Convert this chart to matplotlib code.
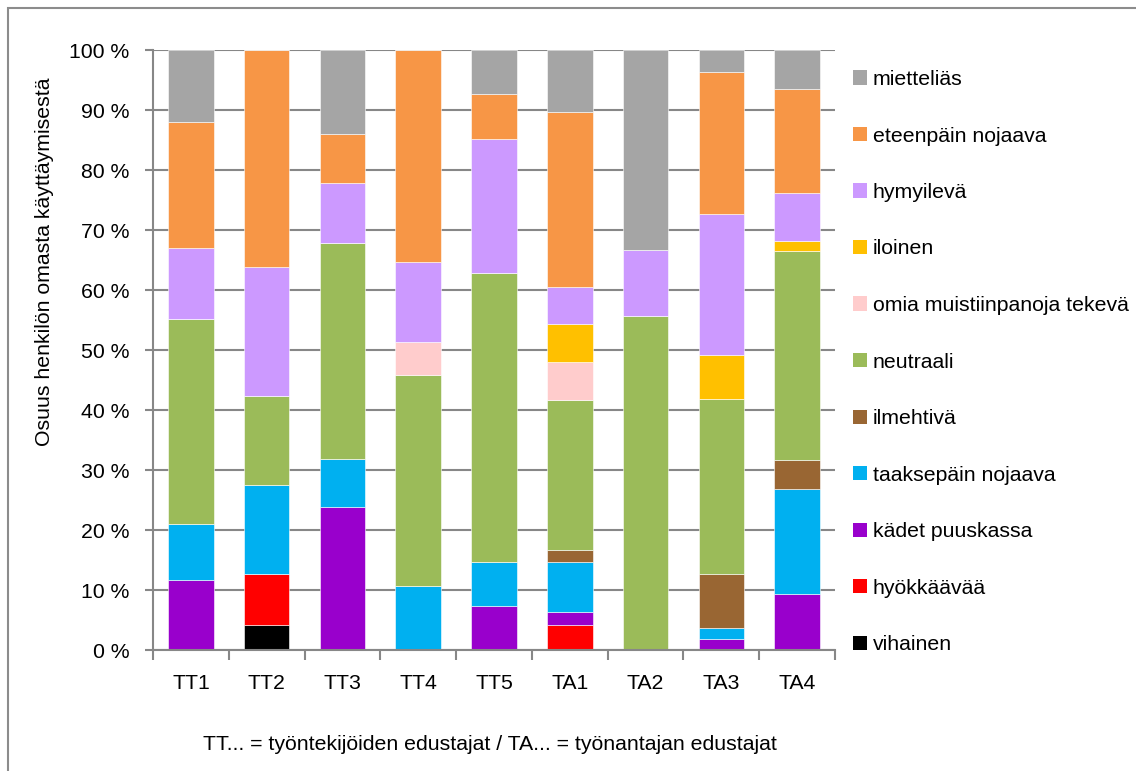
import matplotlib
matplotlib.use("Agg")
import matplotlib.pyplot as plt
from matplotlib.patches import Rectangle
import numpy as np

categories = ["TT1", "TT2", "TT3", "TT4", "TT5", "TA1", "TA2", "TA3", "TA4"]

# series from bottom of stack to top
series_names = ["vihainen", "hyökkäävää", "kädet puuskassa", "taaksepäin nojaava",
                "ilmehtivä", "neutraali", "omia muistiinpanoja tekevä", "iloinen",
                "hymyilevä", "eteenpäin nojaava", "mietteliäs"]
series_colors = ["#000000", "#FF0000", "#9900CC", "#00B0F0", "#996633", "#9BBB59",
                 "#FFCCCC", "#FFC000", "#CC99FF", "#F79646", "#A5A5A5"]

vihainen = [0, 4.2, 0, 0, 0, 0, 0, 0, 0]
hyokkaava = [0, 8.4, 0, 0, 0, 4.2, 0, 0, 0]
kadet_puuskassa = [11.7, 0, 23.8, 0, 7.3, 2.1, 0, 1.8, 9.3]
taaksepain = [9.3, 14.9, 8.1, 10.6, 7.4, 8.3, 0, 1.8, 17.6]
ilmehtiva = [0, 0, 0, 0, 0, 2.1, 0, 9.1, 4.8]
neutraali = [34.1, 14.9, 36.0, 35.2, 48.1, 25.0, 55.6, 29.1, 34.8]
omia_muistiinpanoja = [0, 0, 0, 5.5, 0, 6.3, 0, 0, 0]
iloinen = [0, 0, 0, 0, 0, 6.3, 0, 7.3, 1.7]
hymyileva = [11.9, 21.4, 10.0, 13.4, 22.3, 6.2, 11.1, 23.6, 8.0]
eteenpain = [21.0, 36.2, 8.1, 35.3, 7.5, 29.2, 0, 23.6, 17.3]
mietteliaas = [12.0, 0, 14.0, 0, 7.4, 10.3, 33.3, 3.7, 6.5]

series_values = [vihainen, hyokkaava, kadet_puuskassa, taaksepain, ilmehtiva, neutraali,
                 omia_muistiinpanoja, iloinen, hymyileva, eteenpain, mietteliaas]

ytick_labels = ["0 %", "10 %", "20 %", "30 %", "40 %", "50 %", "60 %", "70 %", "80 %", "90 %", "100 %"]

plt.rcParams['font.family'] = ["Liberation Sans", "DejaVu Sans"]
FS = 15.3

W, H = 1136, 771
fig = plt.figure(figsize=(W / 100, H / 100), dpi=100)

# chart-area border (left/top visible)
fig.add_artist(Rectangle((8 / W, -0.05), 1.2, 1 - 8 / H + 0.05, transform=fig.transFigure,
                         fill=False, edgecolor="#8C8C8C", linewidth=1.5))

L, R, T, B = 153, 835, 50, 650
ax = fig.add_axes([L / W, 1 - B / H, (R - L) / W, (B - T) / H])

x = np.arange(len(categories))
bottom = np.zeros(len(categories))
for name, vals, col in zip(series_names, series_values, series_colors):
    v = np.array(vals, dtype=float)
    ax.bar(x, v, width=0.6, bottom=bottom, color=col, edgecolor="white",
           linewidth=0.4, zorder=3, label=name)
    bottom += v

ax.set_xlim(-0.5, len(categories) - 0.5)
ax.set_ylim(0, 100)

gray = "#878787"
ax.set_yticks(np.arange(0, 101, 10))
ax.set_yticklabels(ytick_labels, fontsize=FS)
ax.yaxis.grid(True, color=gray, linewidth=1.5, zorder=0)
ax.tick_params(axis="y", length=6, width=1.5, color=gray, pad=11)

ax.set_xticks(np.arange(-0.5, len(categories), 1.0))
ax.set_xticklabels([])
ax.set_xticks(x, minor=True)
ax.set_xticklabels(categories, minor=True, fontsize=FS)
ax.tick_params(axis="x", which="major", length=7, width=1.5, color=gray)
ax.tick_params(axis="x", which="minor", length=0, pad=17)

for s in ["top", "right"]:
    ax.spines[s].set_visible(False)
for s in ["left", "bottom"]:
    ax.spines[s].set_color(gray)
    ax.spines[s].set_linewidth(1.5)
    ax.spines[s].set_zorder(4)

# legend (top entry = last series)
y0, dy = 77.5, 56.5
for i, (name, col) in enumerate(zip(series_names[::-1], series_colors[::-1])):
    yc = y0 + i * dy
    fig.add_artist(Rectangle((853 / W, 1 - (yc + 7) / H), 14 / W, 14 / H,
                             transform=fig.transFigure, facecolor=col, edgecolor="none"))
    fig.text(873 / W, 1 - yc / H, name, fontsize=FS, ha="left", va="center_baseline")

fig.text(45 / W, 1 - 262 / H, "Osuus henkilön omasta käyttäymisestä", rotation=90,
         fontsize=FS, ha="center", va="center")
fig.text(490 / W, 1 - 745 / H,
         "TT... = työntekijöiden edustajat / TA... = työnantajan edustajat",
         fontsize=FS, ha="center", va="center")

fig.savefig("out.png", dpi=100)
